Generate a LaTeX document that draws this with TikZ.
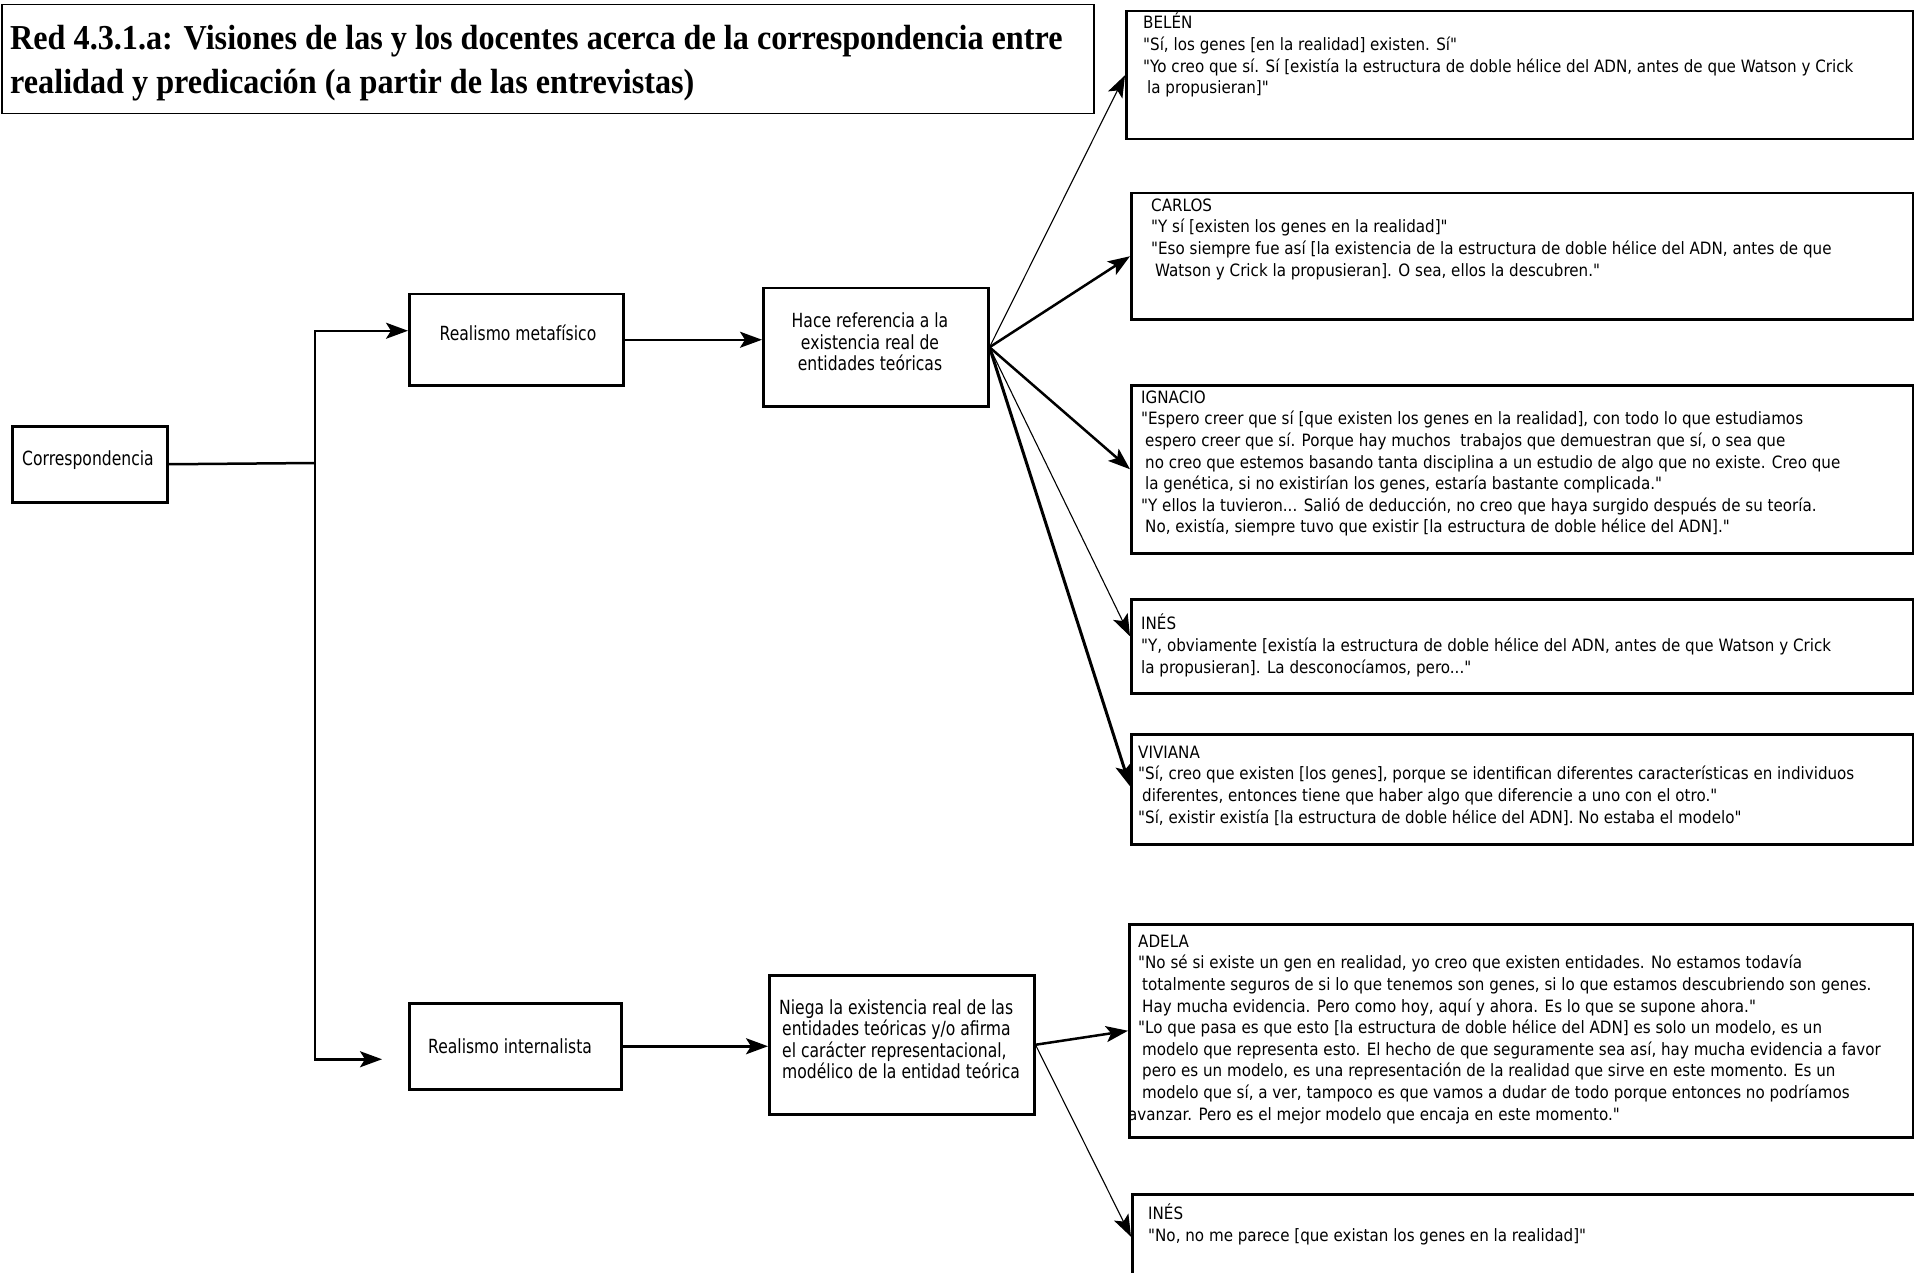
\documentclass[tikz,border=0pt]{standalone}
\usepackage{fontspec}
\setmainfont{DejaVu Sans}
\newfontfamily\qf[FakeStretch=0.8]{DejaVu Sans}
\newfontfamily\qqf[FakeStretch=0.89]{DejaVu Sans}
\newfontfamily\tf[FakeStretch=0.92]{Liberation Serif}
\usetikzlibrary{arrows.meta,calc}
\tikzset{
  bx/.style={draw, line width=2.5pt, inner sep=0pt, anchor=north west},
  qt/.style={anchor=north west, inner sep=0pt, align=left, font=\qqf\fontsize{17}{21.6}\selectfont},
  lt/.style={inner sep=0pt, align=center, font=\qf\fontsize{19.5}{21.5}\selectfont},
  conn/.style={line width=2.5pt},
  arrhead/.style={-{Stealth[length=22pt,width=16pt,inset=5pt]}},
  tarr/.style={conn, arrhead},
  narr/.style={line width=1.1pt, arrhead},
}
\begin{document}
\begin{tikzpicture}[x=1pt,y=-1pt]
\clip (0,0) rectangle (1914,1273);
\fill[white] (0,0) rectangle (1914,1273);

% title
\node[draw, line width=1.5pt, anchor=north west, inner sep=0pt, minimum width=1092pt, minimum height=109pt] (titlebox) at (1,4) {};
\node[anchor=north west, inner sep=0pt, align=left, font=\tf\bfseries\fontsize{35}{44}\selectfont] (title) at (10,18.2)
 {\strut Red 4.3.1.a: Visiones de las y los docentes acerca de la correspondencia entre\\
  realidad y predicación (a partir de las entrevistas)};

% left boxes
\node[bx, minimum width=155pt, minimum height=76pt] (corr) at (11,425) {};
\node[lt] (corrT) at (88,460) {Correspondencia};
\node[bx, minimum width=214pt, minimum height=91pt] (rmet) at (408,293) {};
\node[lt] (rmetT) at (518,333) {Realismo metafísico};
\node[bx, minimum width=225pt, minimum height=118pt] (hace) at (762,287) {};
\node[lt] (haceT) at (870,342) {Hace referencia a la\\ existencia real de\\ entidades teóricas};
\node[bx, minimum width=212pt, minimum height=86pt] (rint) at (408,1002) {};
\node[lt] (rintT) at (510,1046) {Realismo internalista};
\node[bx, minimum width=265pt, minimum height=139pt] (niega) at (768,974) {};
\node[lt, align=left, anchor=west] (niegaT) at (779,1039) {Niega la existencia real de las\\
 \hspace*{3pt}entidades teóricas y/o afirma\\
 \hspace*{3pt}el carácter representacional,\\
 \hspace*{3pt}modélico de la entidad teórica};

% quote boxes
\node[bx, minimum width=787pt, minimum height=128pt] (belen) at (1125,10) {};
\node[qt] (belenT) at (1143,13) {\strut BELÉN\\
"Sí, los genes [en la realidad] existen. Sí"\\
"Yo creo que sí. Sí [existía la estructura de doble hélice del ADN, antes de que Watson y Crick\\
\hspace*{4pt}la propusieran]"};

\node[bx, minimum width=782pt, minimum height=126pt] (carlos) at (1130,192) {};
\node[qt] (carlosT) at (1151,196) {\strut CARLOS\\
"Y sí [existen los genes en la realidad]"\\
"Eso siempre fue así [la existencia de la estructura de doble hélice del ADN, antes de que\\
\hspace*{4pt}Watson y Crick la propusieran]. O sea, ellos la descubren."};

\node[bx, minimum width=782pt, minimum height=168pt] (ignacio) at (1130,384) {};
\node[qt] (ignacioT) at (1141,388) {\strut IGNACIO\\
"Espero creer que sí [que existen los genes en la realidad], con todo lo que estudiamos\\
\hspace*{4pt}espero creer que sí. Porque hay muchos \ trabajos que demuestran que sí, o sea que\\
\hspace*{4pt}no creo que estemos basando tanta disciplina a un estudio de algo que no existe. Creo que\\
\hspace*{4pt}la genética, si no existirían los genes, estaría bastante complicada."\\
"Y ellos la tuvieron... Salió de deducción, no creo que haya surgido después de su teoría.\\
\hspace*{4pt}No, existía, siempre tuvo que existir [la estructura de doble hélice del ADN]."};

\node[bx, minimum width=782pt, minimum height=94pt] (ines) at (1130,598) {};
\node[qt] (inesT) at (1141,614) {\strut INÉS\\
"Y, obviamente [existía la estructura de doble hélice del ADN, antes de que Watson y Crick\\
la propusieran]. La desconocíamos, pero..."};

\node[bx, minimum width=782pt, minimum height=110pt] (viviana) at (1130,733) {};
\node[qt] (vivianaT) at (1138,743) {\strut VIVIANA\\
"Sí, creo que existen [los genes], porque se identifican diferentes características en individuos\\
\hspace*{4pt}diferentes, entonces tiene que haber algo que diferencie a uno con el otro."\\
"Sí, existir existía [la estructura de doble hélice del ADN]. No estaba el modelo"};

\node[bx, minimum width=784pt, minimum height=213pt] (adela) at (1128,923) {};
\node[qt] (adelaT) at (1138,932) {\strut ADELA\\
"No sé si existe un gen en realidad, yo creo que existen entidades. No estamos todavía\\
\hspace*{4pt}totalmente seguros de si lo que tenemos son genes, si lo que estamos descubriendo son genes.\\
\hspace*{4pt}Hay mucha evidencia. Pero como hoy, aquí y ahora. Es lo que se supone ahora."\\
"Lo que pasa es que esto [la estructura de doble hélice del ADN] es solo un modelo, es un\\
\hspace*{4pt}modelo que representa esto. El hecho de que seguramente sea así, hay mucha evidencia a favor\\
\hspace*{4pt}pero es un modelo, es una representación de la realidad que sirve en este momento. Es un\\
\hspace*{4pt}modelo que sí, a ver, tampoco es que vamos a dudar de todo porque entonces no podríamos\\
\hspace*{-10pt}avanzar. Pero es el mejor modelo que encaja en este momento."};

\node[bx, minimum width=800pt, minimum height=97pt] (ines2) at (1131,1193) {};
\node[qt] (ines2T) at (1148,1204) {\strut INÉS\\
"No, no me parece [que existan los genes en la realidad]"};

% connectors
\coordinate (j) at (315,463);
\draw[conn] (corr.east) -- (j);
\draw[tarr] (j) |- ([yshift=9pt]rmet.west);
\draw[tarr, shorten >=26pt] (j) |- ([yshift=-13pt]rint.west);
\draw[tarr] (rmet.east) -- (rmet.east -| hace.west);
\draw[tarr] (rint.east) -- (rint.east -| niega.west);

\draw[narr] (hace.east) -- (belen.west);
\draw[tarr] (hace.east) -- (carlos.west);
\draw[tarr] (hace.east) -- (ignacio.west);
\draw[narr] (hace.east) -- ([yshift=10pt]ines.west);
\draw[tarr, line width=3pt] (hace.east) -- ([yshift=3pt]viviana.west);

\draw[tarr] (niega.east) -- (adela.west);
\draw[narr] (niega.east) -- ([yshift=6pt]ines2.west);
\end{tikzpicture}
\end{document}
